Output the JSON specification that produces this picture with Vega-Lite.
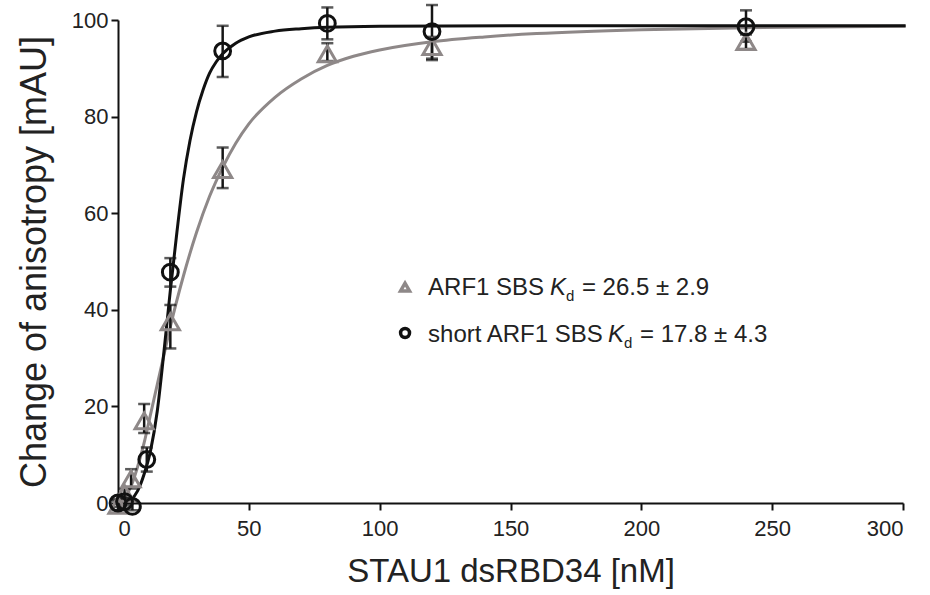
{
  "$schema": "https://vega.github.io/schema/vega-lite/v6.json",
  "width": 785,
  "height": 483,
  "autosize": {"type": "none"},
  "padding": {"left": 118, "top": 20, "right": 27, "bottom": 92},
  "background": "white",
  "config": {
    "view": {"stroke": null},
    "font": "Liberation Sans",
    "axis": {
      "grid": false,
      "domainColor": "#111",
      "domainWidth": 2,
      "tickColor": "#111",
      "tickWidth": 2,
      "tickSize": 7,
      "labelFont": "Liberation Sans",
      "labelFontSize": 22,
      "labelColor": "#222",
      "titleFont": "Liberation Sans",
      "titleFontWeight": "normal",
      "titleColor": "#222"
    }
  },
  "datasets": {
    "curves": [
      {"series": "ARF1 SBS", "x": 0, "y": 0},
      {"series": "ARF1 SBS", "x": 2.5, "y": 1},
      {"series": "ARF1 SBS", "x": 5, "y": 3.5},
      {"series": "ARF1 SBS", "x": 7.5, "y": 7.5},
      {"series": "ARF1 SBS", "x": 10, "y": 12.5},
      {"series": "ARF1 SBS", "x": 12.5, "y": 18.5},
      {"series": "ARF1 SBS", "x": 15, "y": 24.5},
      {"series": "ARF1 SBS", "x": 17.5, "y": 30.5},
      {"series": "ARF1 SBS", "x": 20, "y": 36.5},
      {"series": "ARF1 SBS", "x": 25, "y": 47},
      {"series": "ARF1 SBS", "x": 30, "y": 56},
      {"series": "ARF1 SBS", "x": 35, "y": 63.5},
      {"series": "ARF1 SBS", "x": 40, "y": 69.5},
      {"series": "ARF1 SBS", "x": 45, "y": 74.5},
      {"series": "ARF1 SBS", "x": 50, "y": 78.5},
      {"series": "ARF1 SBS", "x": 60, "y": 84},
      {"series": "ARF1 SBS", "x": 70, "y": 87.8},
      {"series": "ARF1 SBS", "x": 80, "y": 90.6},
      {"series": "ARF1 SBS", "x": 90, "y": 92.5},
      {"series": "ARF1 SBS", "x": 100, "y": 93.8},
      {"series": "ARF1 SBS", "x": 120, "y": 95.5},
      {"series": "ARF1 SBS", "x": 140, "y": 96.5},
      {"series": "ARF1 SBS", "x": 160, "y": 97.2},
      {"series": "ARF1 SBS", "x": 200, "y": 98},
      {"series": "ARF1 SBS", "x": 240, "y": 98.4},
      {"series": "ARF1 SBS", "x": 301, "y": 98.7},
      {"series": "short ARF1 SBS", "x": 0, "y": 0},
      {"series": "short ARF1 SBS", "x": 2.5, "y": 0.1},
      {"series": "short ARF1 SBS", "x": 5, "y": 0.7},
      {"series": "short ARF1 SBS", "x": 7.5, "y": 2.5},
      {"series": "short ARF1 SBS", "x": 10, "y": 6},
      {"series": "short ARF1 SBS", "x": 12.5, "y": 11},
      {"series": "short ARF1 SBS", "x": 15, "y": 19},
      {"series": "short ARF1 SBS", "x": 17.5, "y": 31},
      {"series": "short ARF1 SBS", "x": 20, "y": 44},
      {"series": "short ARF1 SBS", "x": 22.5, "y": 56},
      {"series": "short ARF1 SBS", "x": 25, "y": 67},
      {"series": "short ARF1 SBS", "x": 27.5, "y": 75},
      {"series": "short ARF1 SBS", "x": 30, "y": 81},
      {"series": "short ARF1 SBS", "x": 32.5, "y": 85.5},
      {"series": "short ARF1 SBS", "x": 35, "y": 89},
      {"series": "short ARF1 SBS", "x": 37.5, "y": 91.3},
      {"series": "short ARF1 SBS", "x": 40, "y": 93},
      {"series": "short ARF1 SBS", "x": 45, "y": 95.2},
      {"series": "short ARF1 SBS", "x": 50, "y": 96.5},
      {"series": "short ARF1 SBS", "x": 60, "y": 97.7},
      {"series": "short ARF1 SBS", "x": 70, "y": 98.2},
      {"series": "short ARF1 SBS", "x": 80, "y": 98.5},
      {"series": "short ARF1 SBS", "x": 100, "y": 98.7},
      {"series": "short ARF1 SBS", "x": 150, "y": 98.8},
      {"series": "short ARF1 SBS", "x": 200, "y": 98.8},
      {"series": "short ARF1 SBS", "x": 250, "y": 98.8},
      {"series": "short ARF1 SBS", "x": 301, "y": 98.8}
    ],
    "points": [
      {"series": "ARF1 SBS", "x": 0, "y": -0.5, "lo": -1.5, "hi": 0.5},
      {"series": "ARF1 SBS", "x": 2.5, "y": 2, "lo": 1, "hi": 3},
      {"series": "ARF1 SBS", "x": 5, "y": 5, "lo": 3, "hi": 7},
      {"series": "ARF1 SBS", "x": 10, "y": 17, "lo": 14.5, "hi": 20.5},
      {"series": "ARF1 SBS", "x": 20, "y": 37.5, "lo": 32, "hi": 41},
      {"series": "ARF1 SBS", "x": 40, "y": 69, "lo": 65.2, "hi": 73.6},
      {"series": "ARF1 SBS", "x": 80, "y": 93, "lo": 91.5, "hi": 95.2},
      {"series": "ARF1 SBS", "x": 120, "y": 94.5, "lo": 91.7, "hi": 96.5},
      {"series": "ARF1 SBS", "x": 240, "y": 95.5, "lo": 94, "hi": 97},
      {"series": "short ARF1 SBS", "x": 0, "y": 0, "lo": -0.8, "hi": 0.8},
      {"series": "short ARF1 SBS", "x": 2.5, "y": 0.3, "lo": -0.5, "hi": 1.1},
      {"series": "short ARF1 SBS", "x": 5.5, "y": -0.7, "lo": -1.5, "hi": 0.3},
      {"series": "short ARF1 SBS", "x": 11, "y": 9, "lo": 6.5, "hi": 11.5},
      {"series": "short ARF1 SBS", "x": 20, "y": 47.8, "lo": 44.8, "hi": 50.7},
      {"series": "short ARF1 SBS", "x": 40, "y": 93.6, "lo": 88.2, "hi": 98.8},
      {"series": "short ARF1 SBS", "x": 80, "y": 99.3, "lo": 96, "hi": 102.6},
      {"series": "short ARF1 SBS", "x": 120, "y": 97.6, "lo": 92, "hi": 103.1},
      {"series": "short ARF1 SBS", "x": 240, "y": 98.6, "lo": 95.5, "hi": 102}
    ],
    "legend": [
      {"series": "ARF1 SBS", "x": 109.7, "y": 44.7},
      {"series": "short ARF1 SBS", "x": 109.7, "y": 35.2}
    ],
    "texts": [
      {"label": "ARF1 SBS", "x": 118.5, "y": 43.06, "style": "n"},
      {"label": "K", "x": 165.1, "y": 43.06, "style": "i"},
      {"label": "d", "x": 171.2, "y": 41.8, "style": "s"},
      {"label": "= 26.5 ± 2.9", "x": 177.3, "y": 43.06, "style": "n"},
      {"label": "short ARF1 SBS", "x": 118.5, "y": 33.33, "style": "n"},
      {"label": "K", "x": 187.3, "y": 33.33, "style": "i"},
      {"label": "d", "x": 193.4, "y": 32.1, "style": "s"},
      {"label": "= 17.8 ± 4.3", "x": 199.5, "y": 33.33, "style": "n"}
    ]
  },
  "encoding": {
    "x": {
      "field": "x", "type": "quantitative",
      "scale": {"domain": [0, 300], "nice": false, "zero": false},
      "axis": {"values": [0, 50, 100, 150, 200, 250, 300], "title": "STAU1 dsRBD34 [nM]", "titleFontSize": 33, "titlePadding": 16, "labelPadding": 8}
    },
    "y": {
      "field": "y", "type": "quantitative",
      "scale": {"domain": [0, 100], "nice": false, "zero": false},
      "axis": {"values": [0, 20, 40, 60, 80, 100], "title": "Change of anisotropy [mAU]", "titleFontSize": 36, "titlePadding": 18, "labelPadding": 3}
    }
  },
  "layer": [
    {
      "data": {"name": "curves"},
      "mark": {"type": "line", "strokeWidth": 3, "clip": false, "interpolate": "monotone"},
      "encoding": {
        "color": {"field": "series", "type": "nominal", "legend": null,
          "scale": {"domain": ["ARF1 SBS", "short ARF1 SBS"], "range": ["#8e8888", "#111111"]}}
      }
    },
    {
      "data": {"name": "points"},
      "mark": {"type": "rule", "strokeWidth": 2.5, "color": "#151515", "clip": false},
      "encoding": {
        "y": {"field": "lo", "type": "quantitative"},
        "y2": {"field": "hi"}
      }
    },
    {
      "data": {"name": "points"},
      "transform": [{"fold": ["lo", "hi"], "as": ["end", "val"]}],
      "mark": {"type": "tick", "orient": "horizontal", "size": 12, "thickness": 2.5, "color": "#151515", "clip": false},
      "encoding": {
        "y": {"field": "val", "type": "quantitative"}
      }
    },
    {
      "data": {"name": "points"},
      "mark": {"type": "point", "filled": false, "strokeWidth": 3, "clip": false, "opacity": 1},
      "encoding": {
        "shape": {"field": "series", "type": "nominal", "legend": null,
          "scale": {"domain": ["ARF1 SBS", "short ARF1 SBS"], "range": ["triangle-up", "circle"]}},
        "color": {"field": "series", "type": "nominal", "legend": null,
          "scale": {"domain": ["ARF1 SBS", "short ARF1 SBS"], "range": ["#8e8888", "#111111"]}},
        "size": {"field": "series", "type": "nominal", "legend": null,
          "scale": {"domain": ["ARF1 SBS", "short ARF1 SBS"], "range": [330, 250]}}
      }
    },
    {
      "data": {"name": "legend"},
      "mark": {"type": "point", "filled": false, "strokeWidth": 3.5, "opacity": 1},
      "encoding": {
        "shape": {"field": "series", "type": "nominal", "legend": null,
          "scale": {"domain": ["ARF1 SBS", "short ARF1 SBS"], "range": ["triangle-up", "circle"]}},
        "color": {"field": "series", "type": "nominal", "legend": null,
          "scale": {"domain": ["ARF1 SBS", "short ARF1 SBS"], "range": ["#8e8888", "#111111"]}},
        "size": {"value": 80}
      }
    },
    {
      "data": {"name": "texts"},
      "transform": [{"filter": "datum.style == 'n'"}],
      "mark": {"type": "text", "align": "left", "baseline": "alphabetic", "fontSize": 24, "color": "#222", "font": "Liberation Sans"},
      "encoding": {"text": {"field": "label"}}
    },
    {
      "data": {"name": "texts"},
      "transform": [{"filter": "datum.style == 'i'"}],
      "mark": {"type": "text", "align": "left", "baseline": "alphabetic", "fontSize": 24, "fontStyle": "italic", "color": "#222", "font": "Liberation Sans"},
      "encoding": {"text": {"field": "label"}}
    },
    {
      "data": {"name": "texts"},
      "transform": [{"filter": "datum.style == 's'"}],
      "mark": {"type": "text", "align": "left", "baseline": "alphabetic", "fontSize": 15, "color": "#222", "font": "Liberation Sans"},
      "encoding": {"text": {"field": "label"}}
    }
  ]
}
